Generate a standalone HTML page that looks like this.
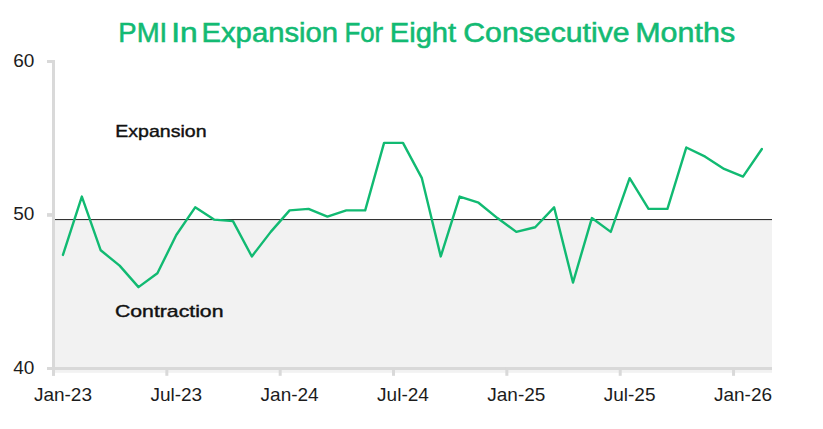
<!DOCTYPE html>
<html><head><meta charset="utf-8"><title>PMI In Expansion For Eight Consecutive Months</title>
<style>
html,body{margin:0;padding:0;background:#fff;overflow:hidden;}
svg{display:block;font-family:"Liberation Sans",sans-serif;}
.ax{font-size:19px;fill:#1c1c1c;}
.lb{font-size:16.6px;font-weight:normal;fill:#111;stroke:#111;stroke-width:0.4px;}
.tt{font-size:27px;font-weight:normal;fill:#13ba73;stroke:#13ba73;stroke-width:0.55px;}
</style></head><body>
<svg width="823" height="429" viewBox="0 0 823 429">
<rect x="0" y="0" width="823" height="429" fill="#fff"/>
<rect x="54" y="219.5" width="718" height="153.3" fill="#f2f2f2"/>
<rect x="55" y="219" width="717" height="1.1" fill="#333"/>
<rect x="52" y="60.3" width="3" height="315.3" fill="#d9d9d9"/>
<rect x="47" y="60" width="8" height="3" fill="#d9d9d9"/>
<rect x="47" y="213.1" width="8" height="3.7" fill="#d9d9d9"/>
<rect x="47" y="367" width="725" height="3" fill="#d9d9d9"/>
<rect x="52.00" y="367" width="3" height="8.8" fill="#d9d9d9"/><rect x="165.34" y="367" width="3" height="8.8" fill="#d9d9d9"/><rect x="278.68" y="367" width="3" height="8.8" fill="#d9d9d9"/><rect x="392.02" y="367" width="3" height="8.8" fill="#d9d9d9"/><rect x="505.36" y="367" width="3" height="8.8" fill="#d9d9d9"/><rect x="618.70" y="367" width="3" height="8.8" fill="#d9d9d9"/><rect x="732.04" y="367" width="3" height="8.8" fill="#d9d9d9"/>
<polyline points="62.95,254.91 81.84,196.58 100.72,250.30 119.62,265.65 138.50,287.15 157.40,273.33 176.28,234.95 195.18,207.33 214.06,219.60 232.96,221.14 251.84,256.45 270.74,231.89 289.62,210.40 308.51,208.86 327.41,216.54 346.30,210.40 365.19,210.40 384.07,142.85 402.97,142.85 421.86,178.16 440.75,256.45 459.63,196.58 478.53,202.72 497.42,218.07 516.31,231.89 535.19,227.28 554.09,207.33 572.98,282.54 591.87,218.07 610.75,231.89 629.64,178.16 648.53,208.86 667.43,208.86 686.32,147.46 705.21,156.67 724.10,168.95 742.99,176.62 761.88,149.00" fill="none" stroke="#11ba72" stroke-width="2.4" stroke-linejoin="round" stroke-linecap="round"/>
<text x="118.31" y="41.9" class="tt" textLength="48.91" lengthAdjust="spacingAndGlyphs">PMI</text>
<text x="171.31" y="41.9" class="tt" textLength="26.48" lengthAdjust="spacingAndGlyphs">In</text>
<text x="201.48" y="41.9" class="tt" textLength="136.69" lengthAdjust="spacingAndGlyphs">Expansion</text>
<text x="344.39" y="41.9" class="tt" textLength="38.80" lengthAdjust="spacingAndGlyphs">For</text>
<text x="389.82" y="41.9" class="tt" textLength="66.34" lengthAdjust="spacingAndGlyphs">Eight</text>
<text x="463.24" y="41.9" class="tt" textLength="166.46" lengthAdjust="spacingAndGlyphs">Consecutive</text>
<text x="635.26" y="41.9" class="tt" textLength="99.90" lengthAdjust="spacingAndGlyphs">Months</text>
<text x="115.31" y="136.7" class="lb" textLength="91.30" lengthAdjust="spacingAndGlyphs">Expansion</text>
<text x="115.02" y="316.5" class="lb" textLength="108.45" lengthAdjust="spacingAndGlyphs">Contraction</text>
<text x="34.3" y="67.2" text-anchor="end" class="ax">60</text>
<text x="34.3" y="220.2" text-anchor="end" class="ax">50</text>
<text x="34.3" y="373.8" text-anchor="end" class="ax">40</text>
<text x="62.95" y="401.2" text-anchor="middle" class="ax">Jan-23</text>
<text x="176.28" y="401.2" text-anchor="middle" class="ax">Jul-23</text>
<text x="289.62" y="401.2" text-anchor="middle" class="ax">Jan-24</text>
<text x="402.97" y="401.2" text-anchor="middle" class="ax">Jul-24</text>
<text x="516.31" y="401.2" text-anchor="middle" class="ax">Jan-25</text>
<text x="629.64" y="401.2" text-anchor="middle" class="ax">Jul-25</text>
<text x="742.99" y="401.2" text-anchor="middle" class="ax">Jan-26</text>
</svg>
</body></html>
